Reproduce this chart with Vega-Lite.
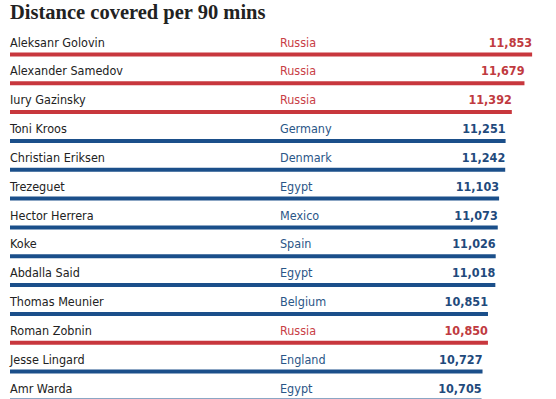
{
  "$schema": "https://vega.github.io/schema/vega-lite/v6.json",
  "width": 546,
  "height": 359,
  "autosize": {"type": "none"},
  "padding": {"left": 10, "top": 40, "right": 0, "bottom": 0},
  "background": "white",
  "title": {
    "text": "Distance covered per 90 mins",
    "anchor": "start",
    "frame": "group",
    "font": "Liberation Serif",
    "fontSize": 20.5,
    "fontWeight": "bold",
    "color": "#222222",
    "baseline": "alphabetic",
    "offset": 1,
    "dy": 3.5
  },
  "config": {"view": {"stroke": null}},
  "data": {
    "values": [
      {"rank": 1, "name": "Aleksanr Golovin", "country": "Russia", "value": 11853},
      {"rank": 2, "name": "Alexander Samedov", "country": "Russia", "value": 11679},
      {"rank": 3, "name": "Iury Gazinsky", "country": "Russia", "value": 11392},
      {"rank": 4, "name": "Toni Kroos", "country": "Germany", "value": 11251},
      {"rank": 5, "name": "Christian Eriksen", "country": "Denmark", "value": 11242},
      {"rank": 6, "name": "Trezeguet", "country": "Egypt", "value": 11103},
      {"rank": 7, "name": "Hector Herrera", "country": "Mexico", "value": 11073},
      {"rank": 8, "name": "Koke", "country": "Spain", "value": 11026},
      {"rank": 9, "name": "Abdalla Said", "country": "Egypt", "value": 11018},
      {"rank": 10, "name": "Thomas Meunier", "country": "Belgium", "value": 10851},
      {"rank": 11, "name": "Roman Zobnin", "country": "Russia", "value": 10850},
      {"rank": 12, "name": "Jesse Lingard", "country": "England", "value": 10727},
      {"rank": 13, "name": "Amr Warda", "country": "Egypt", "value": 10705}
    ]
  },
  "encoding": {
    "y": {
      "field": "rank",
      "type": "quantitative",
      "scale": {"domain": [0.5, 12.95], "reverse": true, "nice": false, "zero": false},
      "axis": null
    }
  },
  "layer": [
    {
      "mark": {"type": "rule", "strokeWidth": 4, "strokeCap": "butt"},
      "encoding": {
        "x": {"field": "value", "type": "quantitative", "scale": {"domain": [0, 12395], "nice": false, "zero": true}, "axis": null},
        "x2": {"datum": 0},
        "color": {"condition": {"test": "datum.country === 'Russia'", "value": "#c8373d"}, "value": "#1b4f8a"}
      }
    },
    {
      "mark": {"type": "text", "align": "left", "baseline": "alphabetic", "yOffset": -7.8, "font": "DejaVu Sans Condensed", "fontSize": 12.5, "color": "#222222"},
      "encoding": {
        "x": {"datum": 0, "type": "quantitative"},
        "text": {"field": "name"}
      }
    },
    {
      "mark": {"type": "text", "align": "left", "baseline": "alphabetic", "yOffset": -7.8, "font": "DejaVu Sans Condensed", "fontSize": 12.5},
      "encoding": {
        "x": {"datum": 6129, "type": "quantitative"},
        "text": {"field": "country"},
        "color": {"condition": {"test": "datum.country === 'Russia'", "value": "#c94046"}, "value": "#2a5687"}
      }
    },
    {
      "mark": {"type": "text", "align": "right", "baseline": "alphabetic", "yOffset": -7.8, "font": "DejaVu Sans Condensed", "fontSize": 12.5, "fontWeight": "bold"},
      "encoding": {
        "x": {"field": "value", "type": "quantitative"},
        "text": {"field": "value", "type": "quantitative", "format": ","},
        "color": {"condition": {"test": "datum.country === 'Russia'", "value": "#c03a40"}, "value": "#1f4a7c"}
      }
    }
  ]
}
